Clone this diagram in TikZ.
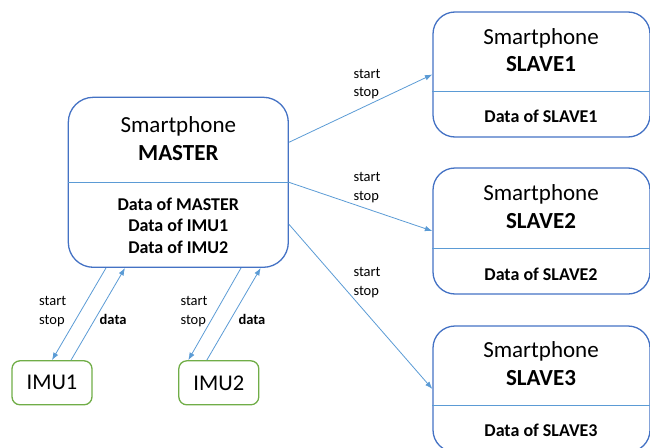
\documentclass[tikz,border=0pt]{standalone}
\usepackage{fontspec}
\setmainfont{Carlito}
\usepackage{tikz}
\usetikzlibrary{positioning,arrows.meta}
\definecolor{boxblue}{RGB}{68,114,196}
\definecolor{lineblue}{RGB}{91,155,213}
\definecolor{imugreen}{RGB}{112,173,71}
\tikzstyle{phone} = [draw=boxblue, line width=1.3pt, rounded corners=22pt, minimum width=217pt]
\tikzstyle{imu} = [draw=imugreen, line width=1.3pt, rounded corners=8pt, minimum width=80pt, minimum height=44pt, font=\fontsize{22.5}{27}\selectfont]
\tikzstyle{title} = [anchor=base, inner sep=0pt, font=\fontsize{23}{27}\selectfont]
\tikzstyle{data} = [anchor=base, inner sep=0pt, font=\fontsize{18}{21}\selectfont\bfseries]
\tikzstyle{lbl} = [anchor=base west, inner sep=0pt, align=left, font=\fontsize{14.5}{18.5}\selectfont]
\tikzstyle{link} = [draw=lineblue, line width=0.8pt, -{Latex[length=7.5pt,width=5.5pt]}]
\tikzstyle{split} = [draw=lineblue, line width=1pt]

\begin{document}
\begin{tikzpicture}[x=1pt, y=-1pt]
    \useasboundingbox (0,0) rectangle (650,447);
    % master
    \node[phone, minimum width=220pt, minimum height=170pt, rounded corners=25pt] (master) at (178.3,182.3) {};
    \draw[split] (master.west |- 0,182.3) -- (master.east |- 0,182.3);
    \node[title] (mt) at (178.3,132.7) {Smartphone};
    \node[title] (mn) at (178.3,160) {\bfseries MASTER};
    \node[data] (md1) at (178.3,210.7) {Data of MASTER};
    \node[data] (md2) at (178.3,231.7) {Data of IMU1};
    \node[data] (md3) at (178.3,253) {Data of IMU2};
    % slaves
    \node[phone, minimum height=125pt] (slave1) at (541.5,74.5) {};
    \draw[split] (slave1.west |- 0,91) -- (slave1.east |- 0,91);
    \node[title] (s1t) at (541,44) {Smartphone};
    \node[title] (s1n) at (541,71.7) {\bfseries SLAVE1};
    \node[data] (s1d) at (541,122.7) {Data of SLAVE1};
    \node[phone, minimum height=126pt] (slave2) at (541.5,231) {};
    \draw[split] (slave2.west |- 0,248.3) -- (slave2.east |- 0,248.3);
    \node[title] (s2t) at (541,200.3) {Smartphone};
    \node[title] (s2n) at (541,228.3) {\bfseries SLAVE2};
    \node[data] (s2d) at (541,280) {Data of SLAVE2};
    \node[phone, minimum height=126pt] (slave3) at (541.5,389) {};
    \draw[split] (slave3.west |- 0,405.7) -- (slave3.east |- 0,405.7);
    \node[title] (s3t) at (541,357.3) {Smartphone};
    \node[title] (s3n) at (541,385) {\bfseries SLAVE3};
    \node[data] (s3d) at (541,436.7) {Data of SLAVE3};
    % imus
    \node[imu] (imu1) at (52,382.8) {IMU1};
    \node[imu] (imu2) at (218.8,382.8) {IMU2};
    % master -> slaves
    \draw[link] ([yshift=40pt]master.east) -- (slave1.west);
    \draw[link] (master.east) -- (slave2.west);
    \draw[link] ([yshift=-42pt]master.east) -- (slave3.west);
    \node[lbl] (c1) at (353.3,96.7) {start\\stop};
    \node[lbl] (c2) at (353.3,200.2) {start\\stop};
    \node[lbl] (c3) at (353.3,295.2) {start\\stop};
    % master <-> imus
    \draw[link] ([xshift=-72.3pt]master.south) -- (imu1.north);
    \draw[link] ([xshift=19pt]imu1.north) -- ([xshift=-53.3pt]master.south);
    \draw[link] ([xshift=62.7pt]master.south) -- ([xshift=-30.5pt]imu2.north);
    \draw[link] ([xshift=-12pt]imu2.north) -- ([xshift=82.4pt]master.south);
    \node[lbl] (c4) at (39,324.3) {start\\stop};
    \node[lbl] (c5) at (180.3,324.3) {start\\stop};
    \node[lbl, font=\fontsize{14.5}{18.5}\selectfont\bfseries] (d1) at (99.5,324.3) {data};
    \node[lbl, font=\fontsize{14.5}{18.5}\selectfont\bfseries] (d2) at (238.3,324.3) {data};
\end{tikzpicture}
\end{document}
